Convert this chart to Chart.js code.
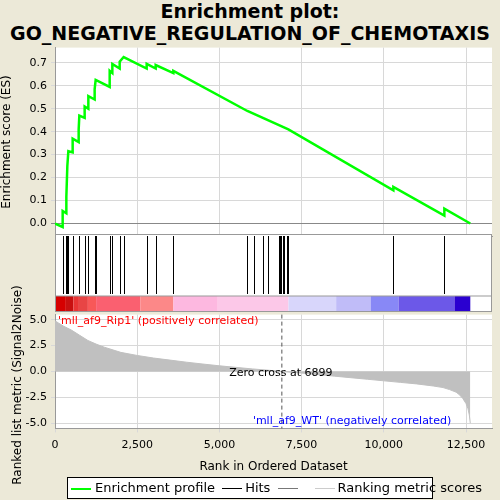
<!DOCTYPE html>
<html><head><meta charset="utf-8">
<script src="https://cdn.jsdelivr.net/npm/chart.js@4"></script>
<style>
body{margin:0;background:#ece9d8;font-family:"DejaVu Sans",sans-serif;}
#title{position:absolute;left:0;top:0;width:500px;text-align:center;font-weight:bold;font-size:19px;line-height:22px;}
.box{position:absolute;left:0;width:500px;}
#legend{position:absolute;left:67px;top:477px;width:364px;height:20px;border:1px solid #000;background:#fff;font-size:13px;line-height:20px;white-space:nowrap;}
#ytitle{position:absolute;left:-88px;top:378px;width:210px;text-align:center;transform:rotate(-90deg);font-size:12px;}
</style></head><body>
<div id="title">Enrichment plot:<br>GO_NEGATIVE_REGULATION_OF_CHEMOTAXIS</div>
<div class="box" style="top:37px;height:210px"><canvas id="esChart"></canvas></div>
<div class="box" style="top:234px;height:78px"><canvas id="hitChart"></canvas></div>
<div class="box" style="top:304px;height:174px"><canvas id="rankChart"></canvas></div>
<div id="ytitle">Ranked list metric (Signal2Noise)</div>
<div id="legend"><span style="display:inline-block;width:20px;border-top:2px solid #00ff00;vertical-align:middle;margin:0 4px 0 3px"></span>Enrichment profile <span style="display:inline-block;width:20px;border-top:1px solid #000;vertical-align:middle;margin:0 3px"></span>Hits <span style="display:inline-block;width:20px;border-top:1px solid #777;vertical-align:middle;margin:0 14px 0 3px"></span><span style="display:inline-block;width:20px;border-top:1px solid #ccc;vertical-align:middle;margin:0 3px"></span>Ranking metric scores</div>
<script>
const maxRank = 13290;
const hitRanks = [233,345,375,406,537,720,740,902,1014,1206,1237,1663,1744,1967,2088,2788,3062,3599,5850,6062,6316,6488,6803,6833,6864,6934,6975,7046,7097,10290,11841];
const esRanks = [0,233,233,345,345,375,406,406,537,537,720,720,740,902,902,1014,1014,1206,1206,1237,1663,1663,1744,1744,1967,1967,2088,2788,2788,3062,3062,3599,3599,5850,7097,10290,10290,11841,11841,12630];
const esValues = [0,-0.015,0.055,0.045,0.115,0.25,0.315,0.315,0.31,0.37,0.355,0.41,0.47,0.46,0.51,0.50,0.555,0.54,0.585,0.625,0.595,0.665,0.655,0.695,0.675,0.705,0.725,0.675,0.695,0.675,0.69,0.655,0.665,0.49,0.41,0.145,0.16,0.035,0.065,0];
const metricRanks = [0,100,250,500,750,1000,1250,1500,2000,2500,3000,3500,4000,4500,5000,5500,6000,6500,6899,7500,8000,8500,9000,9500,10000,10500,11000,11500,11800,12000,12200,12300,12400,12500,12560,12600,12630];
const metricValues = [4.9,4.7,4.4,4.0,3.5,3.0,2.65,2.35,1.85,1.55,1.3,1.1,0.9,0.72,0.55,0.4,0.25,0.12,0,-0.15,-0.3,-0.45,-0.6,-0.75,-0.9,-1.05,-1.2,-1.4,-1.55,-1.75,-2.0,-2.25,-2.6,-3.1,-3.6,-4.2,-5.0];
const barEdges = [0,330,560,700,1000,1250,2600,3600,4950,7100,8550,9600,10450,12150,12630];
const barColors = ['#d60000','#c81010','#e83535','#e84545','#f85858','#fa6070','#fc8888','#fdb8e0','#fcc8e8','#d8d6fb','#c0bcf8','#8888f6','#6c58e8','#2a00d0'];
const zeroCross = 6899;

const fixLeft = {afterFit(a){a.width = 55;}};
const grid = {color:'#d8d8d8', borderDash:[3,3], drawTicks:false};
const xBase = {type:'linear', min:0, max:maxRank, afterBuildTicks(a){a.ticks=[0,2500,5000,7500,10000,12500].map(v=>({value:v}));}, grid:grid, border:{color:'#999'}};
Chart.defaults.font.family = 'DejaVu Sans';
Chart.defaults.font.size = 11;
Chart.defaults.color = '#000';
Chart.defaults.animation = false;
Chart.defaults.maintainAspectRatio = false;

new Chart(document.getElementById('esChart'), {
    type: 'line',
    data: {datasets: [{data: esRanks.map((r,i)=>({x:r,y:esValues[i]})), borderColor:'#00ff00', borderWidth:2.5, pointRadius:0, tension:0}]},
    options: {
        layout: {padding: {right: 8}},
        plugins: {legend: {display: false}, tooltip: {enabled: false}},
        scales: {
            x: Object.assign({}, xBase, {ticks: {display: false}}),
            y: Object.assign({min:-0.056, max:0.766, afterBuildTicks(a){a.ticks=[0,0.1,0.2,0.3,0.4,0.5,0.6,0.7].map(v=>({value:v}));},
                ticks:{callback:v=>v.toFixed(1), padding:4}, grid:{color:c=>c.tick.value===0?'#888':'#d8d8d8', borderDash:c=>c.tick.value===0?[]:[3,3], drawTicks:true, tickLength:4},
                border:{color:'#999'},
                title:{display:true, text:'Enrichment score (ES)', font:{size:12}, padding:0}}, fixLeft)
        }
    },
    plugins: [{id:'bg', beforeDraw(c){const a=c.chartArea,x=c.ctx;x.save();x.fillStyle='#fff';x.fillRect(a.left,a.top,a.width,a.height);x.restore();}}]
});

new Chart(document.getElementById('hitChart'), {
    type: 'line',
    data: {datasets: [{data: []}]},
    options: {
        layout: {padding: {right: 8}},
        plugins: {legend: {display: false}},
        scales: {
            x: Object.assign({}, xBase, {display: false}),
            y: Object.assign({min:0, max:1, ticks:{display:false}, grid:{display:false}, border:{display:false}}, fixLeft)
        }
    },
    plugins: [{id:'hits', beforeDraw(c){
        const a=c.chartArea, x=c.ctx, sx=c.scales.x;
        x.save();
        x.fillStyle='#fff'; x.fillRect(a.left,a.top,a.width,a.height);
        const barTop=a.bottom-16;
        x.strokeStyle='#000'; x.lineWidth=1;
        hitRanks.forEach(r=>{const px=Math.round(sx.getPixelForValue(r))+0.5;x.beginPath();x.moveTo(px,a.top+2);x.lineTo(px,barTop-2);x.stroke();});
        for(let i=0;i<barColors.length;i++){const l=sx.getPixelForValue(barEdges[i]),rr=sx.getPixelForValue(barEdges[i+1]);x.fillStyle=barColors[i];x.fillRect(l,barTop,rr-l,16);}
        x.strokeStyle='#999';x.strokeRect(a.left+0.5,a.top+0.5,a.width-1,a.height-1);
        x.beginPath();x.moveTo(a.left,barTop);x.lineTo(a.right,barTop);x.stroke();
        x.restore();
    }}]
});

new Chart(document.getElementById('rankChart'), {
    type: 'line',
    data: {datasets: [{data: metricRanks.map((r,i)=>({x:r,y:metricValues[i]})), borderColor:'#c0c0c0', backgroundColor:'#c0c0c0', borderWidth:1, fill:'origin', pointRadius:0, tension:0}]},
    options: {
        layout: {padding: {right: 8}},
        plugins: {legend: {display: false}, tooltip: {enabled: false}},
        scales: {
            x: Object.assign({}, xBase, {ticks:{padding:6, font:{size:11}}, grid:Object.assign({}, grid, {drawTicks:true, tickLength:4}),
                title:{display:true, text:'Rank in Ordered Dataset', font:{size:12}, padding:{top:2}}}),
            y: Object.assign({min:-5.5, max:5.5, afterBuildTicks(a){a.ticks=[-5,-2.5,0,2.5,5].map(v=>({value:v}));},
                ticks:{callback:v=>v.toFixed(1), padding:4}, grid:Object.assign({}, grid, {drawTicks:true, tickLength:4}), border:{color:'#999'}}, fixLeft)
        }
    },
    plugins: [{id:'bg2', beforeDraw(c){const a=c.chartArea,x=c.ctx;x.save();x.fillStyle='#fff';x.fillRect(a.left,a.top,a.width,a.height);x.restore();},
        afterDraw(c){
            const a=c.chartArea, x=c.ctx, sx=c.scales.x, sy=c.scales.y;
            x.save();
            const zx=sx.getPixelForValue(zeroCross);
            x.strokeStyle='#555'; x.setLineDash([4,3]); x.beginPath(); x.moveTo(zx,a.top); x.lineTo(zx,a.bottom); x.stroke(); x.setLineDash([]);
            x.font='11px "DejaVu Sans"';
            x.fillStyle='#000'; x.textAlign='center'; x.fillText('Zero cross at '+zeroCross, zx-1, sy.getPixelForValue(0)+4);
            x.fillStyle='#ff0000'; x.textAlign='left'; x.fillText("'mll_af9_Rip1' (positively correlated)", a.left+3, a.top+9);
            x.fillStyle='#0000ff'; x.textAlign='right'; x.fillText("'mll_af9_WT' (negatively correlated)", sx.getPixelForValue(12050), sy.getPixelForValue(-4.9)+2);
            x.restore();
        }}]
});
</script>
</body></html>
